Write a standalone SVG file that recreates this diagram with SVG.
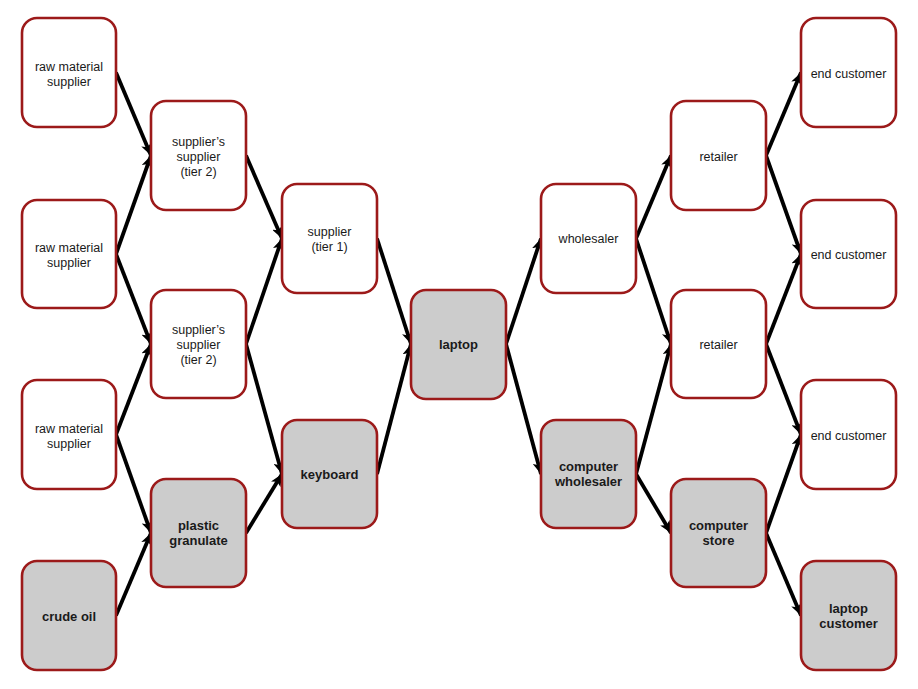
<svg xmlns="http://www.w3.org/2000/svg" width="918" height="689" viewBox="0 0 918 689">
<style>
.n{stroke:#9c1a1a;stroke-width:2.6;fill:#fff}
.g{fill:#cccccc}
.t{font-family:"Liberation Sans",Arial,sans-serif;font-size:12.5px;fill:#1a1a1a;text-anchor:middle}
.b{font-weight:bold;font-size:13px}
.c line{stroke:#000;stroke-width:3.8;marker-end:url(#ah)}
</style>
<defs>
<marker id="ah" markerUnits="userSpaceOnUse" markerWidth="12" markerHeight="11" viewBox="0 0 12 11" refX="12" refY="5.5" orient="auto">
<path d="M0,0 L12,5.5 L0,11 L3,5.5 z" fill="#000"/>
</marker>
</defs>
<rect width="918" height="689" fill="#fff"/>
<g class="c" id="connectors">
<line x1="116" y1="72.5" x2="151" y2="155.5"/>
<line x1="116" y1="254" x2="151" y2="155.5"/>
<line x1="116" y1="254" x2="151" y2="344"/>
<line x1="116" y1="434.5" x2="151" y2="344"/>
<line x1="116" y1="434.5" x2="151" y2="533"/>
<line x1="116" y1="615.5" x2="151" y2="533"/>
<line x1="246" y1="155.5" x2="282" y2="238.5"/>
<line x1="246" y1="344" x2="282" y2="238.5"/>
<line x1="246" y1="344" x2="282" y2="474"/>
<line x1="246" y1="533" x2="282" y2="474"/>
<line x1="377" y1="238.5" x2="411" y2="344"/>
<line x1="377" y1="474" x2="411" y2="344"/>
<line x1="506" y1="344" x2="541" y2="238.5"/>
<line x1="506" y1="344" x2="541" y2="474"/>
<line x1="636" y1="238.5" x2="671" y2="155.5"/>
<line x1="636" y1="238.5" x2="671" y2="344"/>
<line x1="636" y1="474" x2="671" y2="344"/>
<line x1="636" y1="474" x2="671" y2="533"/>
<line x1="766" y1="155.5" x2="801" y2="72.5"/>
<line x1="766" y1="155.5" x2="801" y2="254"/>
<line x1="766" y1="344" x2="801" y2="254"/>
<line x1="766" y1="344" x2="801" y2="434.5"/>
<line x1="766" y1="533" x2="801" y2="434.5"/>
<line x1="766" y1="533" x2="801" y2="615.5"/>
</g>
<g id="rms1"><rect class="n" x="22" y="18" width="94" height="109" rx="15"/><text class="t" x="69" y="71">raw material</text><text class="t" x="69" y="86">supplier</text></g>
<g id="rms2"><rect class="n" x="22" y="200" width="94" height="108" rx="15"/><text class="t" x="69" y="252">raw material</text><text class="t" x="69" y="267">supplier</text></g>
<g id="rms3"><rect class="n" x="22" y="380" width="94" height="109" rx="15"/><text class="t" x="69" y="433">raw material</text><text class="t" x="69" y="448">supplier</text></g>
<g id="crude"><rect class="n g" x="22" y="561" width="94" height="109" rx="15"/><text class="t b" x="69" y="621">crude oil</text></g>
<g id="sst2a"><rect class="n" x="151" y="101" width="95" height="109" rx="15"/><text class="t" x="198.5" y="146">supplier’s</text><text class="t" x="198.5" y="161">supplier</text><text class="t" x="198.5" y="176">(tier 2)</text></g>
<g id="sst2b"><rect class="n" x="151" y="290" width="95" height="108" rx="15"/><text class="t" x="198.5" y="334">supplier’s</text><text class="t" x="198.5" y="349">supplier</text><text class="t" x="198.5" y="364">(tier 2)</text></g>
<g id="plastic"><rect class="n g" x="151" y="479" width="95" height="108" rx="15"/><text class="t b" x="198.5" y="530">plastic</text><text class="t b" x="198.5" y="545">granulate</text></g>
<g id="supplier1"><rect class="n" x="282" y="184" width="95" height="109" rx="15"/><text class="t" x="329.5" y="236">supplier</text><text class="t" x="329.5" y="251">(tier 1)</text></g>
<g id="keyboard"><rect class="n g" x="282" y="420" width="95" height="108" rx="15"/><text class="t b" x="329.5" y="479">keyboard</text></g>
<g id="laptop"><rect class="n g" x="411" y="290" width="95" height="109" rx="15"/><text class="t b" x="458.5" y="349">laptop</text></g>
<g id="wholesaler"><rect class="n" x="541" y="184" width="95" height="109" rx="15"/><text class="t" x="588.5" y="243">wholesaler</text></g>
<g id="compwholesaler"><rect class="n g" x="541" y="420" width="95" height="108" rx="15"/><text class="t b" x="588.5" y="471">computer</text><text class="t b" x="588.5" y="486">wholesaler</text></g>
<g id="retailer1"><rect class="n" x="671" y="101" width="95" height="109" rx="15"/><text class="t" x="718.5" y="161">retailer</text></g>
<g id="retailer2"><rect class="n" x="671" y="290" width="95" height="108" rx="15"/><text class="t" x="718.5" y="349">retailer</text></g>
<g id="compstore"><rect class="n g" x="671" y="479" width="95" height="108" rx="15"/><text class="t b" x="718.5" y="530">computer</text><text class="t b" x="718.5" y="545">store</text></g>
<g id="end1"><rect class="n" x="801" y="18" width="95" height="109" rx="15"/><text class="t" x="848.5" y="78">end customer</text></g>
<g id="end2"><rect class="n" x="801" y="200" width="95" height="108" rx="15"/><text class="t" x="848.5" y="259">end customer</text></g>
<g id="end3"><rect class="n" x="801" y="380" width="95" height="109" rx="15"/><text class="t" x="848.5" y="440">end customer</text></g>
<g id="laptopcust"><rect class="n g" x="801" y="561" width="95" height="109" rx="15"/><text class="t b" x="848.5" y="613">laptop</text><text class="t b" x="848.5" y="628">customer</text></g>
</svg>
